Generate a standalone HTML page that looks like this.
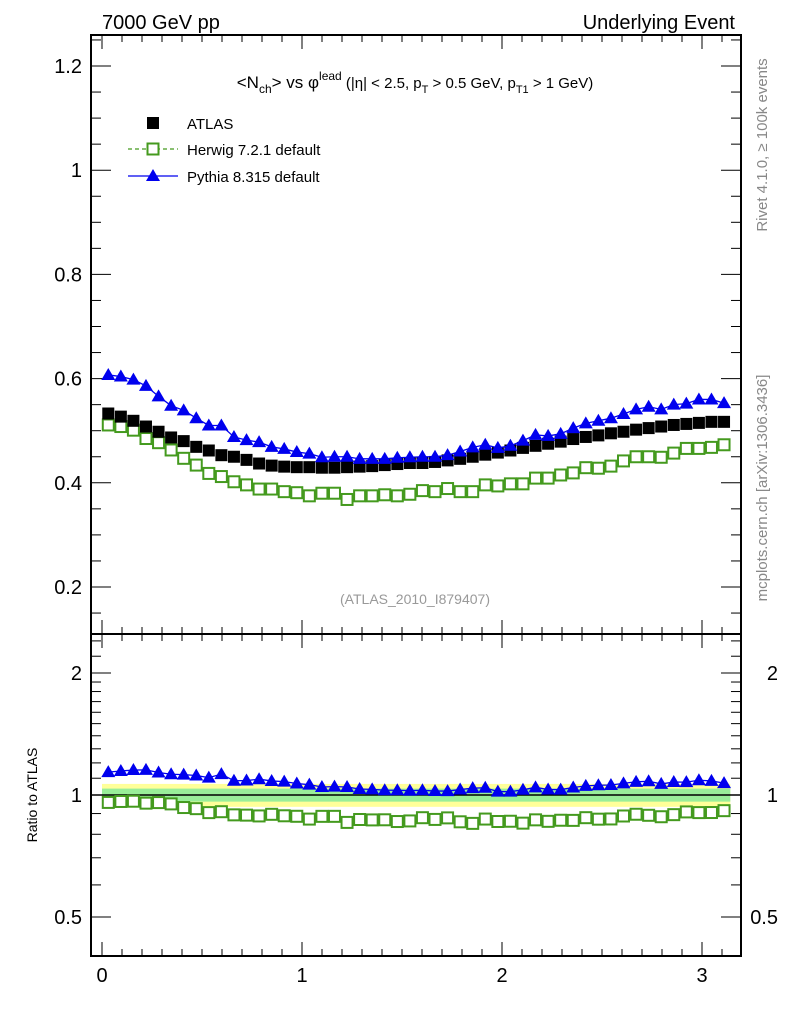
<!DOCTYPE html>
<html><head><meta charset="utf-8"><style>
body{margin:0;background:#fff;}
svg{display:block;font-family:"Liberation Sans",Arial,sans-serif;}
</style></head><body>
<svg id="c" width="786" height="1024" viewBox="0 0 786 1024" xmlns="http://www.w3.org/2000/svg">
<text x="102" y="29" font-size="20">7000 GeV pp</text>
<text x="735" y="29" font-size="20" text-anchor="end">Underlying Event</text>
<text x="415" y="88" font-size="17" text-anchor="middle">&lt;N<tspan font-size="12" dy="5">ch</tspan><tspan dy="-5">&gt; vs φ</tspan><tspan font-size="12" dy="-8">lead</tspan><tspan font-size="15" dy="8"> (|η| &lt; 2.5, p</tspan><tspan font-size="11" dy="5">T</tspan><tspan font-size="15" dy="-5"> &gt; 0.5 GeV, p</tspan><tspan font-size="11" dy="5">T1</tspan><tspan font-size="15" dy="-5"> &gt; 1 GeV)</tspan></text>
<text x="415" y="604" font-size="14" fill="#999" text-anchor="middle">(ATLAS_2010_I879407)</text>
<text transform="translate(767,145) rotate(-90)" font-size="15" fill="#888" text-anchor="middle">Rivet 4.1.0, ≥ 100k events</text>
<text transform="translate(767,488) rotate(-90)" font-size="15" fill="#888" text-anchor="middle">mcplots.cern.ch [arXiv:1306.3436]</text>
<text transform="translate(37,795) rotate(-90)" font-size="14" text-anchor="middle">Ratio to ATLAS</text>
<g>
<rect x="147" y="117" width="12" height="12" fill="#000"/>
<text x="187" y="129" font-size="15">ATLAS</text>
<line x1="128" y1="149" x2="178" y2="149" stroke="#449a1e" stroke-width="1.3" stroke-dasharray="4,3"/>
<rect x="147.5" y="143.5" width="11" height="11" fill="#fff" stroke="#449a1e" stroke-width="2"/>
<text x="187" y="155" font-size="15">Herwig 7.2.1 default</text>
<line x1="128" y1="176" x2="178" y2="176" stroke="#0000ee" stroke-width="1.3"/>
<polygon points="153,169 160,181 146,181" fill="#0000ee"/>
<text x="187" y="182" font-size="15">Pythia 8.315 default</text>
</g>
</svg>
<script>
const atlas=[0.533,0.527,0.519,0.508,0.498,0.487,0.480,0.469,0.462,0.453,0.450,0.444,0.437,0.433,0.431,0.430,
0.430,0.429,0.429,0.430,0.431,0.432,0.434,0.436,0.438,
0.438,0.440,0.443,0.446,0.450,0.454,0.458,0.462,0.467,
0.471,0.475,0.479,0.484,0.488,0.491,0.495,0.498,
0.502,0.505,0.508,0.511,0.513,0.515,0.517,0.517];
const pythia=[0.607,0.604,0.598,0.586,0.566,0.548,0.539,0.524,0.510,0.510,0.488,0.482,0.478,0.469,0.465,0.459,
0.456,0.449,0.450,0.450,0.446,0.446,0.446,0.448,0.449,
0.450,0.450,0.453,0.460,0.468,0.473,0.467,0.471,0.481,
0.492,0.490,0.494,0.505,0.514,0.519,0.524,0.532,
0.541,0.546,0.541,0.550,0.552,0.560,0.560,0.553];
const herwig=[0.511,0.508,0.501,0.485,0.477,0.463,0.447,0.434,0.418,0.412,0.402,0.396,0.388,0.388,0.383,0.381,
0.375,0.380,0.380,0.368,0.375,0.375,0.377,0.375,0.378,
0.385,0.383,0.389,0.383,0.383,0.396,0.394,0.398,0.398,
0.409,0.409,0.415,0.419,0.429,0.428,0.432,0.442,
0.450,0.450,0.449,0.457,0.466,0.466,0.468,0.473];
const bandOuter=0.065, bandInner=0.037;
const xTicks=[0,1,2,3];
const yTicks=[0.2,0.4,0.6,0.8,1.0,1.2];
const yTickLabels=["0.2","0.4","0.6","0.8","1","1.2"];
const rTicks=[0.5,1,2];
const rTickLabels=["0.5","1","2"];

const NS="http://www.w3.org/2000/svg";
const svg=document.getElementById('c');
const L=91,R=741,MT=35,MB=634,RT=634,RB=956;
const nb=atlas.length, xmax=Math.PI;
const X=v=>102+v*200;
const Y=v=>587-(v-0.2)*521;
const YR=r=>795-Math.log10(r)*405.3;
const binC=i=>(i+0.5)*xmax/nb;
function mk(tag,attrs,parent){const e=document.createElementNS(NS,tag);for(const k in attrs)e.setAttribute(k,attrs[k]);(parent||svg).appendChild(e);return e;}

// ratio bands
const gBand=mk('g',{});


mk('rect',{x:X(0),y:YR(1+bandOuter),width:X(xmax)-X(0),height:YR(1-bandOuter)-YR(1+bandOuter),fill:'#ffff99'},gBand);
mk('rect',{x:X(0),y:YR(1+bandInner),width:X(xmax)-X(0),height:YR(1-bandInner)-YR(1+bandInner),fill:'#99ee99'},gBand);
const ref=mk('line',{x1:L,x2:R,y1:YR(1),y2:YR(1),stroke:'#000','stroke-width':1.5});



// frames
const f1=mk('rect',{x:L,y:MT,width:R-L,height:MB-MT,fill:'none',stroke:'#000','stroke-width':2});


const f2=mk('rect',{x:L,y:RT,width:R-L,height:RB-RT,fill:'none',stroke:'#000','stroke-width':2});



// x ticks
const gx=mk('g',{stroke:'#000','stroke-width':1});


for(let k=0;k<=31;k++){const v=k/10;const x=X(v);const major=k%10==0;const len=major?14:7;
 [MB,RB].forEach(yb=>mk('line',{x1:x,x2:x,y1:yb,y2:yb-len},gx));
 [MT,RT].forEach(yt=>mk('line',{x1:x,x2:x,y1:yt,y2:yt+len},gx));}
xTicks.forEach(v=>{const t=mk('text',{x:X(v),y:982,'font-size':20,'text-anchor':'middle'});t.textContent=String(v);
 
 });

// main y ticks
const gy=mk('g',{stroke:'#000','stroke-width':1});


for(let k=3;k<=25;k++){const v=k*0.05;const y=Y(v);if(y<MT||y>MB)continue;const major=k%4==0;const len=major?20:10;
 mk('line',{x1:L,x2:L+len,y1:y,y2:y},gy);mk('line',{x1:R,x2:R-len,y1:y,y2:y},gy);}
yTicks.forEach((v,i)=>{const t=mk('text',{x:82,y:Y(v)+7,'font-size':20,'text-anchor':'end'});t.textContent=yTickLabels[i];
 
 });

// ratio y ticks (log)
const gr=mk('g',{stroke:'#000','stroke-width':1});


const rm=[0.4,0.5,0.6,0.7,0.8,0.9,1,1.1,1.2,1.3,1.4,1.5,1.6,1.7,1.8,1.9,2,2.2,2.4];
rm.forEach(r=>{const y=YR(r);if(y<RT||y>RB)return;const major=(r==0.5||r==1||r==2);const len=major?20:10;
 mk('line',{x1:L,x2:L+len,y1:y,y2:y},gr);mk('line',{x1:R,x2:R-len,y1:y,y2:y},gr);});
rTicks.forEach((r,i)=>{const t=mk('text',{x:82,y:YR(r)+7,'font-size':20,'text-anchor':'end'});t.textContent=rTickLabels[i];
 
 
 const t2=mk('text',{x:778,y:YR(r)+7,'font-size':20,'text-anchor':'end',fill:'#000'});t2.textContent=rTickLabels[i];
 
 });

// series
function drawSeries(vals,yf,kind,name){
 const g=mk('g',{});
 
 
 if(kind!=='atlas'){
  const pts=vals.map((v,i)=>X(binC(i))+','+yf(v)).join(' ');
  const pl=mk('polyline',{points:pts,fill:'none',stroke:kind==='herwig'?'#449a1e':'#0000ee','stroke-width':1.3,'stroke-dasharray':kind==='herwig'?'4,3':'none'},g);
  
  
 }
 vals.forEach((v,i)=>{const x=X(binC(i)),y=yf(v);let m;
  if(kind==='atlas')m=mk('rect',{x:x-6,y:y-6,width:12,height:12,fill:'#000'},g);
  else if(kind==='herwig')m=mk('rect',{x:x-5.5,y:y-5.5,width:11,height:11,fill:'#fff',stroke:'#449a1e','stroke-width':2},g);
  else m=mk('polygon',{points:`${x},${y-7} ${x+7},${y+5} ${x-7},${y+5}`,fill:'#0000ee'},g);
  
  });
}
drawSeries(herwig,Y,'herwig','herwig-series');
drawSeries(atlas,Y,'atlas','atlas-series');
drawSeries(pythia,Y,'pythia','pythia-series');
drawSeries(herwig.map((v,i)=>v/atlas[i]),YR,'herwig','herwig-ratio');
drawSeries(pythia.map((v,i)=>v/atlas[i]),YR,'pythia','pythia-ratio');
</script>
</body></html>
